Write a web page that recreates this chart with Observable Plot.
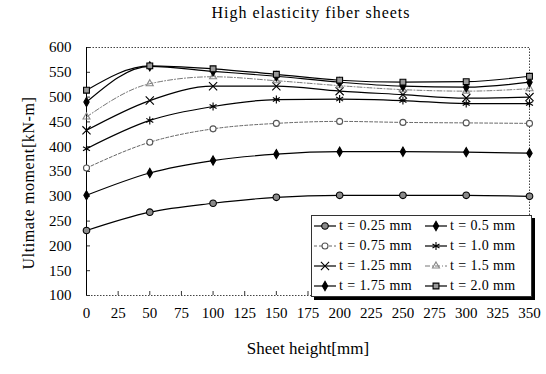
<!DOCTYPE html>
<html>
<head>
<meta charset="utf-8">
<script src="https://cdn.jsdelivr.net/npm/d3@7"></script>
<script src="https://cdn.jsdelivr.net/npm/@observablehq/plot@0.6"></script>
<style>
  body { margin: 0; background: #fff; }
  #wrap { position: relative; width: 546px; height: 374px; font-family: "Liberation Serif", "DejaVu Serif", serif; color: #000; }
  #title { position: absolute; top: 4px; left: 0; width: 622px; text-align: center; font-size: 16px; letter-spacing: 1px; }
  #ylabel { position: absolute; left: 29px; top: 183px; transform: translate(-50%, -50%) rotate(-90deg); white-space: nowrap; font-size: 16px; letter-spacing: 0.6px; line-height: 18px; }
  #legend { position: absolute; left: 311px; top: 215px; width: 219px; height: 80px; border: 1px solid #333; box-shadow: 3px 3px 0 #000; background: #fff;
            display: grid; grid-template-columns: 111px 108px; grid-auto-rows: 20px; font-size: 14px; letter-spacing: 0.4px; }
  .item { display: flex; align-items: center; white-space: nowrap; padding-left: 1px; }
  .item svg { flex: none; margin-right: 2px; }
</style>
</head>
<body>
<div id="wrap">
  <div id="chart"></div>
  <div id="title">High elasticity fiber sheets</div>
  <div id="ylabel"></div>
  <div id="legend"></div>
</div>
<script>
const heights = [0, 50, 100, 150, 200, 250, 300, 350];
const labels = ["t = 0.25 mm", "t = 0.5 mm", "t = 0.75 mm", "t = 1.0 mm", "t = 1.25 mm", "t = 1.5 mm", "t = 1.75 mm", "t = 2.0 mm"];
const m025 = [231, 268, 286, 298, 302, 302, 302, 300];
const m050 = [302, 347, 372, 385, 390, 390, 389, 387];
const m075 = [357, 409, 436, 447, 451, 449, 448, 447];
const m100 = [396, 453, 481, 495, 496, 493, 487, 487];
const m125 = [433, 493, 522, 522, 512, 505, 498, 500];
const m150 = [460, 527, 541, 533, 523, 515, 512, 517];
const m175 = [490, 562, 552, 542, 530, 522, 520, 530];
const m200 = [514, 563, 557, 546, 534, 530, 531, 542];
const xTicks = [0, 25, 50, 75, 100, 125, 150, 175, 200, 225, 250, 275, 300, 325, 350];
const yTicks = [100, 150, 200, 250, 300, 350, 400, 450, 500, 550, 600];
const xLabel = "Sheet height[mm]";
const yLabel = "Ultimate moment[kN-m]";

const seriesValues = [m025, m050, m075, m100, m125, m150, m175, m200];

const styles = [
  {symbol: "circle",   r: 3.3, fill: "#8a8a8a", stroke: "#000", line: "#000", dash: null,      sw: 1.2},
  {symbol: "diamond",  r: 2.8, fill: "#000",    stroke: "#000", line: "#000", dash: null,      sw: 1.2},
  {symbol: "circle",   r: 3,   fill: "#fff",    stroke: "#555", line: "#666", dash: "3,2",     sw: 1},
  {symbol: "asterisk", r: 3.8, fill: "none",    stroke: "#000", line: "#000", dash: null,      sw: 1.2},
  {symbol: "times",    r: 3.8, fill: "none",    stroke: "#000", line: "#000", dash: null,      sw: 1.2},
  {symbol: "triangle", r: 2.6, fill: "none",    stroke: "#888", line: "#777", dash: "5,2,1,2", sw: 1},
  {symbol: "diamond",  r: 2.8, fill: "#000",    stroke: "#000", line: "#000", dash: null,      sw: 1.2},
  {symbol: "square",   r: 3.3, fill: "#999",    stroke: "#000", line: "#000", dash: null,      sw: 1.2}
];

const table = labels.flatMap((label, i) => heights.map((h, j) => ({label, h, m: seriesValues[i][j]})));

const lineMarks = labels.map((label, i) => {
  const s = styles[i];
  const data = table.filter(d => d.label === label);
  return Plot.line(data, {x: "h", y: "m", stroke: s.line, strokeWidth: s.sw, strokeDasharray: s.dash, curve: "monotone-x"});
});
const dotMarks = labels.map((label, i) => {
  const s = styles[i];
  const data = table.filter(d => d.label === label);
  return Plot.dot(data, {x: "h", y: "m", symbol: () => s.symbol, r: s.r, fill: s.fill, stroke: s.stroke, strokeWidth: 1.1});
});

const chart = Plot.plot({
  width: 546,
  height: 374,
  marginLeft: 86,
  marginRight: 17,
  marginTop: 47,
  marginBottom: 79,
  style: {fontFamily: "'Liberation Serif', 'DejaVu Serif', serif", fontSize: "15px", color: "#000", background: "#fff"},
  x: {domain: [0, 350]},
  y: {domain: [100, 600]},
  symbol: {type: "identity"},
  marks: [
    Plot.frame({stroke: "#444", strokeDasharray: "1.5,1.5"}),
    Plot.axisX({ticks: xTicks, tickSize: 0, tickPadding: 12, label: null, tickFormat: d => String(d), letterSpacing: 0.5}),
    Plot.axisX({ticks: xTicks, tickSize: -4, tickFormat: () => "", label: null, stroke: "#333"}),
    Plot.axisY({ticks: yTicks, tickSize: 0, tickPadding: 15, label: null, tickFormat: d => String(d), letterSpacing: 0.5}),
    Plot.axisY({ticks: yTicks, tickSize: -4, tickFormat: () => "", label: null, stroke: "#333"}),
    Plot.ruleX([0], {stroke: "#000", strokeWidth: 1}),
    Plot.text([xLabel], {frameAnchor: "bottom", textAnchor: "middle", lineAnchor: "middle", dx: 0, dy: 53, fontSize: 17, letterSpacing: 1, text: d => d}),
    ...lineMarks,
    ...dotMarks
  ]
});
document.getElementById("chart").appendChild(chart);
document.getElementById("ylabel").textContent = yLabel;

// Legend
const legend = d3.select("#legend");
const symMap = {circle: d3.symbolCircle, diamond: d3.symbolDiamond, asterisk: d3.symbolAsterisk, times: d3.symbolTimes, triangle: d3.symbolTriangle, square: d3.symbolSquare};
labels.forEach((label, i) => {
  const s = styles[i];
  const item = legend.append("div").attr("class", "item");
  const svg = item.append("svg").attr("width", 24).attr("height", 12);
  svg.append("line").attr("x1", 1).attr("x2", 23).attr("y1", 6).attr("y2", 6)
    .attr("stroke", s.line).attr("stroke-width", s.sw).attr("stroke-dasharray", s.dash);
  svg.append("path").attr("d", d3.symbol(symMap[s.symbol], Math.PI * s.r * s.r)())
    .attr("transform", "translate(12,6)")
    .attr("fill", s.fill).attr("stroke", s.stroke).attr("stroke-width", 1.1);
  item.append("span").text(label);
});
</script>
</body>
</html>
